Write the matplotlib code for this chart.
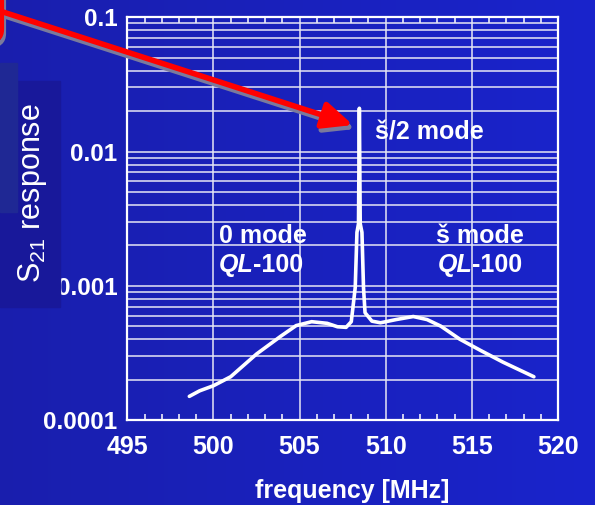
import numpy as np
import matplotlib
matplotlib.use("Agg")
import matplotlib.pyplot as plt
from matplotlib.ticker import MultipleLocator, NullFormatter
from matplotlib.patches import FancyArrowPatch, FancyBboxPatch, Rectangle

plt.rcParams['font.family'] = ['Liberation Sans', 'DejaVu Sans']
plt.rcParams['mathtext.fontset'] = 'custom'
plt.rcParams['mathtext.rm'] = 'Liberation Sans'
plt.rcParams['mathtext.it'] = 'Liberation Sans:italic'

freq = [498.6, 499.2, 500.0, 501.0, 502.5, 503.9, 504.8, 505.7, 506.6, 507.2,
        507.7, 508.0, 508.13, 508.23, 508.33, 508.42, 508.47, 508.52, 508.62,
        508.71, 508.8, 509.2, 509.7, 510.6, 511.6, 512.4, 513.2, 514.3, 515.5,
        516.8, 518.6]
s21 = [1.5e-4, 1.65e-4, 1.8e-4, 2.1e-4, 3.1e-4, 4.2e-4, 5.05e-4, 5.4e-4,
       5.25e-4, 4.95e-4, 4.9e-4, 5.4e-4, 7.5e-4, 9.7e-4, 2.5e-3, 2.9e-3,
       0.021, 2.9e-3, 2.5e-3, 9.7e-4, 6.3e-4, 5.45e-4, 5.3e-4, 5.6e-4,
       5.9e-4, 5.6e-4, 5.0e-4, 4.0e-4, 3.3e-4, 2.7e-4, 2.1e-4]

x_ticks = [495, 500, 505, 510, 515, 520]
y_ticks = [1e-4, 1e-3, 1e-2, 1e-1]
y_labels = ['0.0001', '0.001', '0.01', '0.1']

W, H = 595, 505


def fx(px):
    return px / W


def fy(py):
    return 1 - py / H


fig = plt.figure(figsize=(W / 100, H / 100), dpi=100)

# slide background gradient
bg = fig.add_axes([0, 0, 1, 1], zorder=-10)
bg.axis('off')
grad = np.linspace(0, 1, 256)
left = np.array([0.10, 0.12, 0.68])
right = np.array([0.10, 0.14, 0.80])
img = left[None, :] * (1 - grad[:, None]) + right[None, :] * grad[:, None]
bg.imshow(img[None, :, :], aspect='auto', extent=[0, 1, 0, 1])
bg.set_xlim(0, 1)
bg.set_ylim(0, 1)

ax = fig.add_axes([fx(127.3), fy(420), fx(558) - fx(127.3), fy(17.3) - fy(420)])
ax.patch.set_alpha(0)
ax.set_yscale('log')
ax.set_xlim(495, 520)
ax.set_ylim(1e-4, 0.1)

ax.plot(freq, s21, color='white', lw=2.6, solid_capstyle='round', zorder=3)

ax.set_xticks(x_ticks)
ax.xaxis.set_minor_locator(MultipleLocator(1))
ax.set_yticks(y_ticks, y_labels)
ax.yaxis.set_minor_formatter(NullFormatter())

ax.grid(which='both', axis='y', color='#e6e6f5', lw=1.1)
ax.grid(which='major', axis='x', color='#e6e6f5', lw=1.1)

ax.tick_params(axis='x', which='major', length=0, pad=11, labelsize=18,
               labelcolor='white')
ax.tick_params(axis='x', which='minor', direction='in', top=True, bottom=True,
               length=4.5, width=1.1, color='white')
ax.tick_params(axis='y', which='both', length=0, pad=7, labelsize=17.5,
               labelcolor='white')
for lab in ax.get_xticklabels() + ax.get_yticklabels():
    lab.set_fontweight('bold')
for s in ax.spines.values():
    s.set_color('white')
    s.set_linewidth(1.6)

# annotations
tk = dict(color='white', fontsize=18, fontweight='bold', va='center')
ax.text(509.4, 0.0139, 'š/2 mode', **tk)
ax.text(500.3, 2.33e-3, '0 mode', **tk)
ax.text(512.9, 2.33e-3, 'š mode', **tk)
for x0 in (500.3, 513.0):
    t = ax.text(x0, 1.42e-3, 'QL', color='white', fontsize=18,
                fontweight='bold', fontstyle='italic', va='center')
    ax.annotate('-100', xy=(1, 0), xycoords=t, color='white', fontsize=18,
                fontweight='bold', va='bottom')

fig.text(fx(352), fy(491), 'frequency [MHz]', color='white', fontsize=18,
         fontweight='bold', ha='center', va='center')

# left side boxes and axis title
fig.add_artist(Rectangle((0, fy(307)), fx(60), fy(81) - fy(307),
                         transform=fig.transFigure, color='#18189a', zorder=5))
fig.add_artist(Rectangle((0, fy(212)), fx(17), fy(63) - fy(212),
                         transform=fig.transFigure, color='#1f2894', zorder=6))
fig.text(fx(33), fy(193), r'S$_{21}$ response', color='white', fontsize=22,
         rotation=90, ha='center', va='center', zorder=7)

# red callout box and arrow with shadows
for dx, dy, c, z in ((2, 4, '#7a7a9c', 8), (0, 0, 'red', 9)):
    fig.add_artist(FancyBboxPatch((fx(-150 + dx), fy(42 + dy)), fx(152), fy(-60) - fy(42),
                                  boxstyle='round,pad=0,rounding_size=0.025',
                                  transform=fig.transFigure, ec=c, fc='none',
                                  lw=3, zorder=z))
    fig.add_artist(FancyArrowPatch((fx(0 + dx), fy(11 + dy)), (fx(353 + dx), fy(125 + dy)),
                                   transform=fig.transFigure, color=c, lw=4,
                                   arrowstyle='-|>,head_length=1.0,head_width=0.45',
                                   mutation_scale=18, shrinkA=0, shrinkB=0,
                                   zorder=z))

fig.savefig('out.png', dpi=100)
